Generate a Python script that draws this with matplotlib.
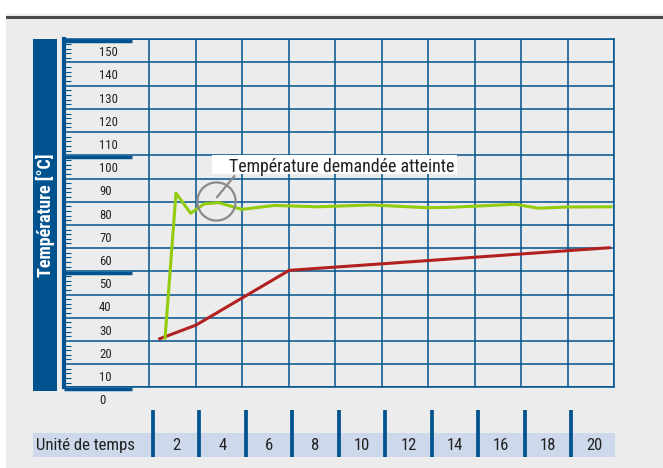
import numpy as np
import matplotlib
matplotlib.use('Agg')
import matplotlib.pyplot as plt
from matplotlib import font_manager
from matplotlib.patches import Rectangle

# data
green_t = [0.67, 1.14, 1.77, 2.36, 2.99, 3.97, 5.4, 7.2, 9.55, 11.99, 13.0, 15.74, 16.73, 17.96, 19.87]
green_v = [21.2, 83.7, 75.0, 79.1, 79.6, 76.7, 78.4, 77.8, 78.6, 77.4, 77.6, 78.9, 77.2, 77.7, 77.8]
red_t = [0.38, 2.0, 6.01, 19.86]
red_v = [20.7, 26.8, 50.4, 60.2]
y_labels = list(range(0, 151, 10))
x_labels = ['2', '4', '6', '8', '10', '12', '14', '16', '18', '20']
annot_text = 'Température demandée atteinte'
annot_point = (2.86, 80.3)

BLUE = '#00538f'
GREEN = '#92cc0c'
RED = '#b0211f'
BG = '#ececec'
BAND = '#cdd8ea'
TXT = '#222222'

WEIGHT_WORDS = ('Thin', 'Light', 'Medium', 'Semi', 'Bold', 'Black', 'Extra', 'Ultra', 'Heavy')


def pick_font():
    entries = font_manager.fontManager.ttflist
    names = {f.name for f in entries}
    for c in ['Liberation Sans Narrow', 'Roboto Condensed', 'Noto Sans SemiCondensed',
              'Noto Sans Condensed', 'DejaVu Sans Condensed', 'Open Sans Condensed']:
        if c in names:
            return dict(family=c)
    for f in entries:
        if str(f.stretch) in ('condensed', 'semi-condensed') and f.name in (
                'DejaVu Sans', 'Noto Sans', 'Roboto', 'Open Sans', 'Liberation Sans'):
            return dict(family=f.name, stretch=f.stretch)
    for n in sorted(names):
        if ('Narrow' in n or 'Condensed' in n):
            rest = n.replace('Condensed', '').replace('Narrow', '')
            if not any(w in rest for w in WEIGHT_WORDS):
                return dict(family=n)
    return dict(family='Roboto')


FONT = pick_font()

W, H = 663, 468
fig = plt.figure(figsize=(W / 100, H / 100), dpi=100)
fig.patch.set_facecolor('white')
renderer = fig.canvas.get_renderer()


def fit(t, width_px, vertical=False):
    # scale the font size so the text spans the width measured on the reference
    bb = t.get_window_extent(renderer)
    cur = bb.height if vertical else bb.width
    t.set_fontsize(t.get_fontsize() * width_px / cur)
    return t


# grey page + top rule
fig.patches.append(Rectangle((6 / W, 0), 1, (H - 14) / H, transform=fig.transFigure,
                             facecolor=BG, edgecolor='none', zorder=-2))
fig.patches.append(Rectangle((6 / W, (H - 19) / H), 1, 3 / H, transform=fig.transFigure,
                             facecolor='#4a4a4a', edgecolor='none', zorder=-1))

ax = fig.add_axes([64 / W, (H - 387.3) / H, (614 - 64) / W, (387.3 - 39.3) / H])
ax.set_facecolor(BG)
ax.set_xlim(-3.681, 20)
ax.set_ylim(0, 150)

ax.set_xticks(np.arange(0, 21, 2))
ax.set_yticks(y_labels)
ax.set_yticks(np.arange(0, 151, 2), minor=True)
ax.grid(True, color=BLUE, lw=1.1)
ax.set_xticklabels([])
ax.set_yticklabels([])
ax.tick_params(which='major', length=0)
ax.tick_params(which='minor', axis='y', direction='in', length=5, width=0.8, color=BLUE)
ax.tick_params(which='minor', axis='x', length=0)
for s in ['top', 'right', 'bottom']:
    ax.spines[s].set_color(BLUE)
    ax.spines[s].set_linewidth(1.1)
ax.spines['left'].set_color(BLUE)
ax.spines['left'].set_linewidth(3.0)
ax.set_axisbelow(True)

# thick bars every 50
ax.hlines([v - 0.75 for v in (0, 50, 100, 150)], -3.681, -0.766, color=BLUE, lw=2.5,
          clip_on=False, zorder=3)

# y labels
t150 = ax.text(-2.17, 150, '150', fontsize=10, **FONT)
fit(t150, 18.7)
ysize = t150.get_fontsize()
t150.remove()
for v in y_labels:
    ax.text(-2.17, v - 5.8, str(v), ha='left', va='center', fontsize=ysize, color=TXT, **FONT)

# ylabel panel
ax.add_patch(Rectangle((-5.016, -1.6), 1.036, 151.7, facecolor=BLUE, edgecolor='none',
                       clip_on=False, zorder=3))
yl = ax.text(-4.498, 74.3, 'Température [°C]', rotation=90, ha='center', va='center',
             color='white', fontsize=13, fontweight='bold', **FONT)
fit(yl, 123, vertical=True)

# bottom band
ax.add_patch(Rectangle((-5.016, -30.0), 25.06, 10.3, facecolor=BAND, edgecolor='none',
                       clip_on=False, zorder=2))
ax.vlines([2 * k + 0.15 for k in range(10)], -30.0, -9.74, color=BLUE, lw=2.7,
          clip_on=False, zorder=3)
xl = ax.text(-4.887, -25.3, 'Unité de temps', ha='left', va='center', fontsize=12.5,
             color=TXT, **FONT)
fit(xl, 100)
t14 = ax.text(0, 0, '14', fontsize=13, **FONT)
fit(t14, 16.3)
xsize = t14.get_fontsize()
t14.remove()
for k, lab in enumerate(x_labels):
    ax.text(2 * k + 1.15, -25.3, lab, ha='center', va='center', fontsize=xsize,
            color=TXT, **FONT)

# series
ax.plot(red_t, red_v, color=RED, lw=2.2, zorder=4, solid_capstyle='butt')
ax.plot(green_t, green_v, color=GREEN, lw=2.2, zorder=5)

# annotation
ax.plot([annot_point[0]], [annot_point[1]], marker='o', ms=27.5, mfc='none',
        mec='#8a8a8a', mew=1.6, zorder=6)
ax.plot([2.91, 3.65], [82.0, 91.0], color='#8a8a8a', lw=1.6, zorder=6)
ax.add_patch(Rectangle((2.70, 91.8), 10.55, 8.3, facecolor='white', edgecolor='none', zorder=6))
at = ax.text(3.42, 92.6, annot_text, ha='left', va='baseline', fontsize=14, color=TXT,
             zorder=7, **FONT)
fit(at, 227)

fig.savefig('out.png', dpi=100, facecolor=fig.get_facecolor())
